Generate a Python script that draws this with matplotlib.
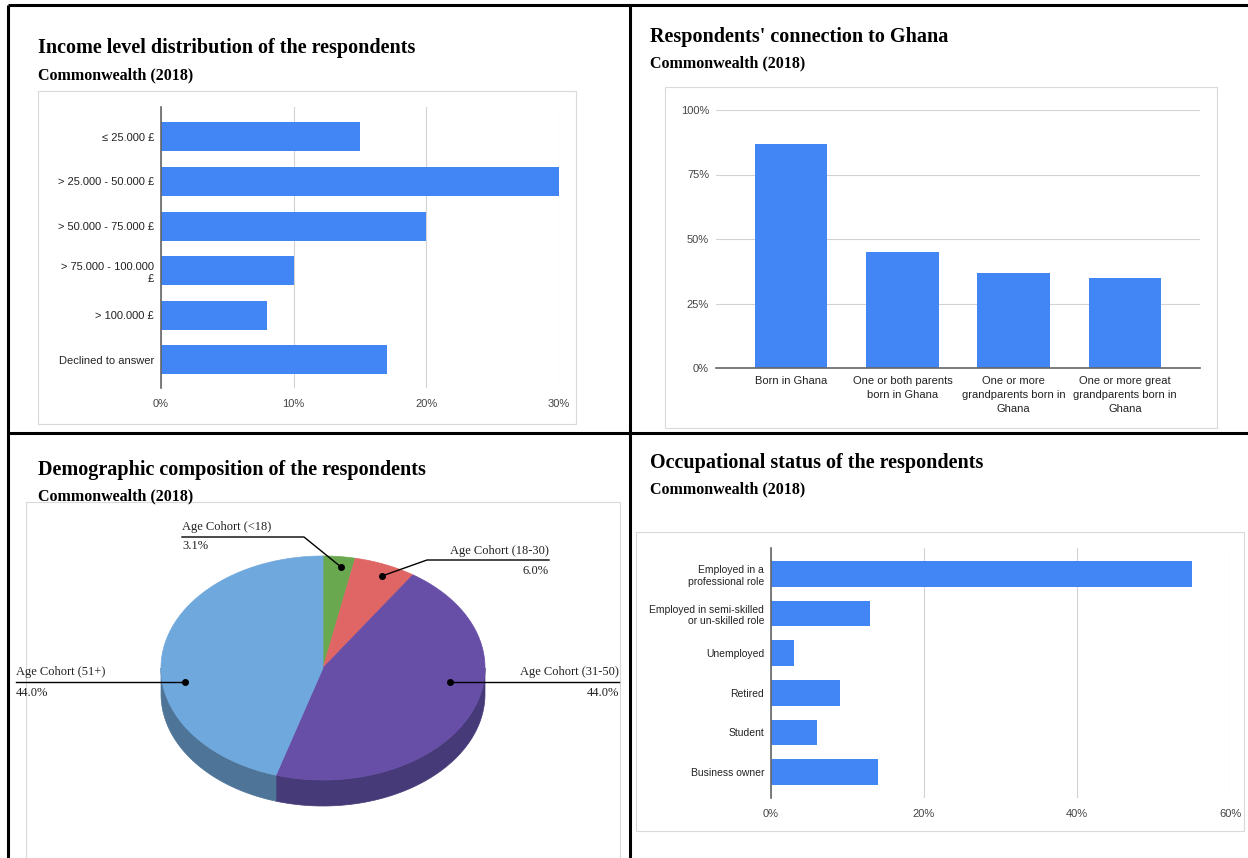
import numpy as np
import matplotlib
matplotlib.use("Agg")
import matplotlib.pyplot as plt
from matplotlib.patches import Polygon, Rectangle

W, H = 1248, 858

# income panel
income_cats = ["≤ 25.000 £", "> 25.000 - 50.000 £", "> 50.000 - 75.000 £",
               "> 75.000 - 100.000\n£", "> 100.000 £", "Declined to answer"]
income_pct = [15, 30, 20, 10, 8, 17]

# connection panel
conn_cats = ["Born in Ghana", "One or both parents\nborn in Ghana",
             "One or more\ngrandparents born in\nGhana",
             "One or more great\ngrandparents born in\nGhana"]
conn_pct = [87, 45, 37, 35]

# age panel
age_cats = ["Age Cohort (<18)", "Age Cohort (18-30)", "Age Cohort (31-50)", "Age Cohort (51+)"]
age_pct = [3.1, 6.0, 44.0, 44.0]

# occupation panel
occ_cats = ["Employed in a\nprofessional role", "Employed in semi-skilled\nor un-skilled role",
            "Unemployed", "Retired", "Student", "Business owner"]
occ_pct = [55, 13, 3, 9, 6, 14]

BLUE = "#4285f4"
GRID = "#d3d3d3"
AXIS = "#666666"
TXT = "#444444"
SANS = "Liberation Sans"
SERIF = "Liberation Serif"

fig = plt.figure(figsize=(W / 100, H / 100), dpi=100)


def px_axes(x0, y0, x1, y1):
    return fig.add_axes([x0 / W, 1 - y1 / H, (x1 - x0) / W, (y1 - y0) / H])


# canvas in pixel units for frames, titles and the pie
cv = fig.add_axes([0, 0, 1, 1], zorder=0)
cv.set_xlim(0, W)
cv.set_ylim(H, 0)
cv.axis("off")

# light frames around each chart
for x0, y0, x1, y1 in [(38, 91, 576, 424), (665, 87, 1217, 428),
                       (26, 502, 620, 870), (636, 532, 1244, 831)]:
    cv.add_patch(Rectangle((x0, y0), x1 - x0, y1 - y0, fill=False,
                           edgecolor="#d9d9d9", lw=0.8))

# black grid separating the panels
lw_black = 2.2
cv.plot([8, W], [5, 5], color="black", lw=lw_black, solid_capstyle="butt")
cv.plot([8, 8], [5, H], color="black", lw=lw_black, solid_capstyle="butt")
cv.plot([630, 630], [5, H], color="black", lw=lw_black, solid_capstyle="butt")
cv.plot([8, W], [433, 433], color="black", lw=lw_black, solid_capstyle="butt")

titles = [
    (38, 48, 75, "Income level distribution of the respondents"),
    (650, 37, 63, "Respondents' connection to Ghana"),
    (38, 470, 496, "Demographic composition of the respondents"),
    (650, 463, 489, "Occupational status of the respondents"),
]
for x, ty, sy, t in titles:
    cv.text(x, ty, t, family=SERIF, weight="bold", fontsize=14.5, ha="left", va="center")
    cv.text(x, sy, "Commonwealth (2018)", family=SERIF, weight="bold", fontsize=11.5,
            ha="left", va="center")


def style_hbar(ax, xmax, step):
    ax.set_xlim(0, xmax)
    ticks = np.arange(0, xmax + 1, step)
    ax.set_xticks(ticks)
    ax.set_xticklabels([f"{t}%" for t in ticks], fontsize=8, color=TXT, family=SANS)
    ax.grid(axis="x", color=GRID, lw=0.8)
    ax.set_axisbelow(True)
    for s in ["top", "right", "bottom"]:
        ax.spines[s].set_visible(False)
    ax.spines["left"].set_color(AXIS)
    ax.spines["left"].set_linewidth(1.2)
    ax.tick_params(length=0)
    ax.patch.set_alpha(0)


# income level distribution
ax1 = px_axes(161, 107, 559, 388)
y1 = np.arange(len(income_cats))
ax1.barh(y1, income_pct, height=0.65, color=BLUE)
ax1.set_ylim(len(income_cats) - 1 + 0.63, -0.67)
ax1.set_yticks(y1)
ax1.set_yticklabels(income_cats, fontsize=8, color="#222222", family=SANS, linespacing=1.25)
style_hbar(ax1, 30, 10)
ax1.tick_params(axis="y", pad=5)
ax1.tick_params(axis="x", pad=8)

# connection to Ghana
ax2 = px_axes(716, 110, 1200, 368)
x2 = np.arange(len(conn_cats))
ax2.bar(x2, conn_pct, width=0.65, color=BLUE)
ax2.set_xlim(-0.676, len(conn_cats) - 1 + 0.676)
ax2.set_ylim(0, 100)
ax2.set_yticks([0, 25, 50, 75, 100])
ax2.set_yticklabels([f"{t}%" for t in [0, 25, 50, 75, 100]], fontsize=8, color=TXT, family=SANS)
ax2.set_xticks(x2)
ax2.set_xticklabels(conn_cats, fontsize=8, color="#222222", family=SANS, linespacing=1.45, va="top")
ax2.grid(axis="y", color=GRID, lw=0.8)
ax2.set_axisbelow(True)
for s in ["top", "right", "left"]:
    ax2.spines[s].set_visible(False)
ax2.spines["bottom"].set_color(AXIS)
ax2.spines["bottom"].set_linewidth(1.2)
ax2.tick_params(length=0)
ax2.tick_params(axis="y", pad=5)
ax2.tick_params(axis="x", pad=6)
ax2.patch.set_alpha(0)

# occupational status
ax4 = px_axes(771, 548, 1230, 798)
y4 = np.arange(len(occ_cats))
ax4.barh(y4, occ_pct, height=0.65, color=BLUE)
ax4.set_ylim(len(occ_cats) - 1 + 0.655, -0.655)
ax4.set_yticks(y4)
ax4.set_yticklabels(occ_cats, fontsize=7.5, color="#222222", family=SANS, linespacing=1.2)
style_hbar(ax4, 60, 20)
ax4.tick_params(axis="y", pad=5)
ax4.tick_params(axis="x", pad=8)

# 3-D style pie for the age cohorts
cx, cy, rx, ry, depth = 323, 668, 162, 112, 26
top_colors = ["#6aa84f", "#e06666", "#674ea7", "#6fa8dc"]
side_colors = ["#4b7a38", "#a84a4a", "#463a78", "#4e7598"]

fr = np.array(age_pct) / np.sum(age_pct)
edges = np.concatenate([[0], np.cumsum(fr)]) * 2 * np.pi


def rim(phi, drop=0.0):
    return cx + rx * np.sin(phi), cy - ry * np.cos(phi) + drop


# side walls (front half only)
for i in range(len(age_pct)):
    lo, hi = max(edges[i], np.pi / 2), min(edges[i + 1], 3 * np.pi / 2)
    if lo >= hi:
        continue
    phi = np.linspace(lo, hi, 120)
    xt, yt = rim(phi)
    xb, yb = rim(phi[::-1], depth)
    pts = np.column_stack([np.concatenate([xt, xb]), np.concatenate([yt, yb])])
    cv.add_patch(Polygon(pts, closed=True, facecolor=side_colors[i],
                         edgecolor=side_colors[i], lw=0.5))

# top face
for i in range(len(age_pct)):
    phi = np.linspace(edges[i], edges[i + 1], 200)
    xt, yt = rim(phi)
    pts = np.column_stack([np.concatenate([[cx], xt]), np.concatenate([[cy], yt])])
    cv.add_patch(Polygon(pts, closed=True, facecolor=top_colors[i],
                         edgecolor=top_colors[i], lw=0.5))

# leader lines and labels
label_layout = [
    dict(x=182, ha="left", ty=527, py=546, line=[(182, 537), (304, 537), (341, 567)]),
    dict(x=549, ha="right", ty=551, py=571, line=[(549, 560), (427, 560), (382, 576)]),
    dict(x=619, ha="right", ty=672, py=693, line=[(619, 682), (450, 682)]),
    dict(x=16, ha="left", ty=672, py=693, line=[(16, 682), (185, 682)]),
]
for name, val, lay in zip(age_cats, age_pct, label_layout):
    lx, ly = zip(*lay["line"])
    cv.plot(lx, ly, color="black", lw=1.0)
    cv.plot(lx[-1], ly[-1], "o", color="black", ms=4)
    cv.text(lay["x"], lay["ty"], name, family=SERIF, fontsize=9, ha=lay["ha"], va="center",
            color="#222222")
    cv.text(lay["x"], lay["py"], f"{val:.1f}%", family=SERIF, fontsize=9, ha=lay["ha"],
            va="center", color="#222222")

fig.savefig("out.png", dpi=100)
